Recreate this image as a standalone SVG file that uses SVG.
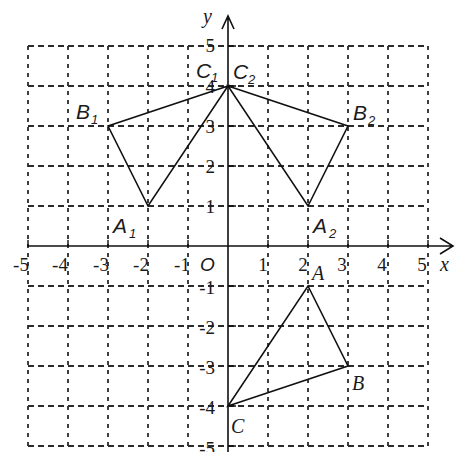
<svg xmlns="http://www.w3.org/2000/svg" width="455" height="452" viewBox="0 0 455 452">
<defs>
<style>
.gh{stroke:#2a2a2a;stroke-width:1.8;stroke-dasharray:6 4;fill:none}
.gv{stroke:#2a2a2a;stroke-width:1.8;stroke-dasharray:4 5;fill:none}
.ax{stroke:#111;stroke-width:1.6;fill:none}
.tk{stroke:#111;stroke-width:1.4}
.tri{stroke:#111;stroke-width:1.6;fill:none;stroke-linejoin:miter}
.num{font-family:"Liberation Serif","Times New Roman",serif;font-size:19px;fill:#1a1a1a}
.nm{text-anchor:middle}
.ne{text-anchor:end}
.lab{font-family:"Liberation Sans",Arial,sans-serif;font-style:italic;font-size:21px;fill:#1a1a1a}
.sub{font-family:"Liberation Sans",Arial,sans-serif;font-style:italic;font-size:13px;fill:#1a1a1a}
.var{font-family:"Liberation Serif","Times New Roman",serif;font-style:italic;font-size:20px;fill:#1a1a1a}
</style>
</defs>
<rect width="455" height="452" fill="#fff"/>
<g id="grid">
<path class="gh" d="M28 46H428M28 86H428M28 126H428M28 166H428M28 206H428M28 286H428M28 326H428M28 366H428M28 406H428M28 446H428"/>
<path class="gv" d="M28 46V446M68 46V446M108 46V446M148 46V446M188 46V446M268 46V446M308 46V446M348 46V446M388 46V446M428 46V446"/>
</g>
<g id="axes">
<path class="ax" d="M27 246H453M440 238L453 246L440 254"/>
<path class="ax" d="M228 452V16M222 29L228 16L234 29"/>
<path class="tk" d="M228 46h8M228 86h8M228 126h8M228 166h8M228 206h8M228 286h8M228 326h8M228 366h8M228 406h8M228 446h8"/>
<path class="tk" d="M28 246v-6M68 246v-6M108 246v-6M148 246v-6M188 246v-6M268 246v-6M308 246v-6M348 246v-6M388 246v-6M428 246v-6"/>
<text class="var" x="203" y="23">y</text>
<text class="var" x="440" y="271">x</text>
<text class="lab" x="200" y="271" style="font-size:19px">O</text>
</g>
<g id="ticklabels">
<text class="num ne" x="215" y="52">5</text>
<text class="num ne" x="215" y="93">4</text>
<text class="num ne" x="215" y="133">3</text>
<text class="num ne" x="215" y="173">2</text>
<text class="num ne" x="215" y="213">1</text>
<text class="num ne" x="215" y="294">-1</text>
<text class="num ne" x="215" y="334">-2</text>
<text class="num ne" x="215" y="374">-3</text>
<text class="num ne" x="215" y="414">-4</text>
<text class="num ne" x="215" y="455">-5</text>
<text class="num nm" x="21" y="271">-5</text>
<text class="num nm" x="60" y="271">-4</text>
<text class="num nm" x="101" y="271">-3</text>
<text class="num nm" x="141" y="271">-2</text>
<text class="num nm" x="182" y="271">-1</text>
<text class="num nm" x="263" y="271">1</text>
<text class="num nm" x="303" y="271">2</text>
<text class="num nm" x="342" y="271">3</text>
<text class="num nm" x="382" y="271">4</text>
<text class="num nm" x="422" y="271">5</text>
</g>
<g id="connectors">
<polygon id="tri-ABC" class="tri" points="308,286 348,366 228,406"/>
<polygon id="tri-A1B1C1" class="tri" points="148,206 108,126 228,86"/>
<polygon id="tri-A2B2C2" class="tri" points="308,206 348,126 228,86"/>
</g>
<g id="node-C1"><text class="lab" x="196" y="78">C</text><text class="sub" x="211" y="82">1</text></g>
<g id="node-C2"><text class="lab" x="233" y="79">C</text><text class="sub" x="248" y="84">2</text></g>
<g id="node-B1"><text class="lab" x="76" y="119">B</text><text class="sub" x="91" y="124">1</text></g>
<g id="node-B2"><text class="lab" x="353" y="120">B</text><text class="sub" x="368" y="125">2</text></g>
<g id="node-A1"><text class="lab" x="113" y="233">A</text><text class="sub" x="129" y="238">1</text></g>
<g id="node-A2"><text class="lab" x="313" y="233">A</text><text class="sub" x="329" y="238">2</text></g>
<g id="node-A"><text class="var" x="312" y="280">A</text></g>
<g id="node-B"><text class="var" x="352" y="390">B</text></g>
<g id="node-C"><text class="var" x="231" y="433">C</text></g>
</svg>
